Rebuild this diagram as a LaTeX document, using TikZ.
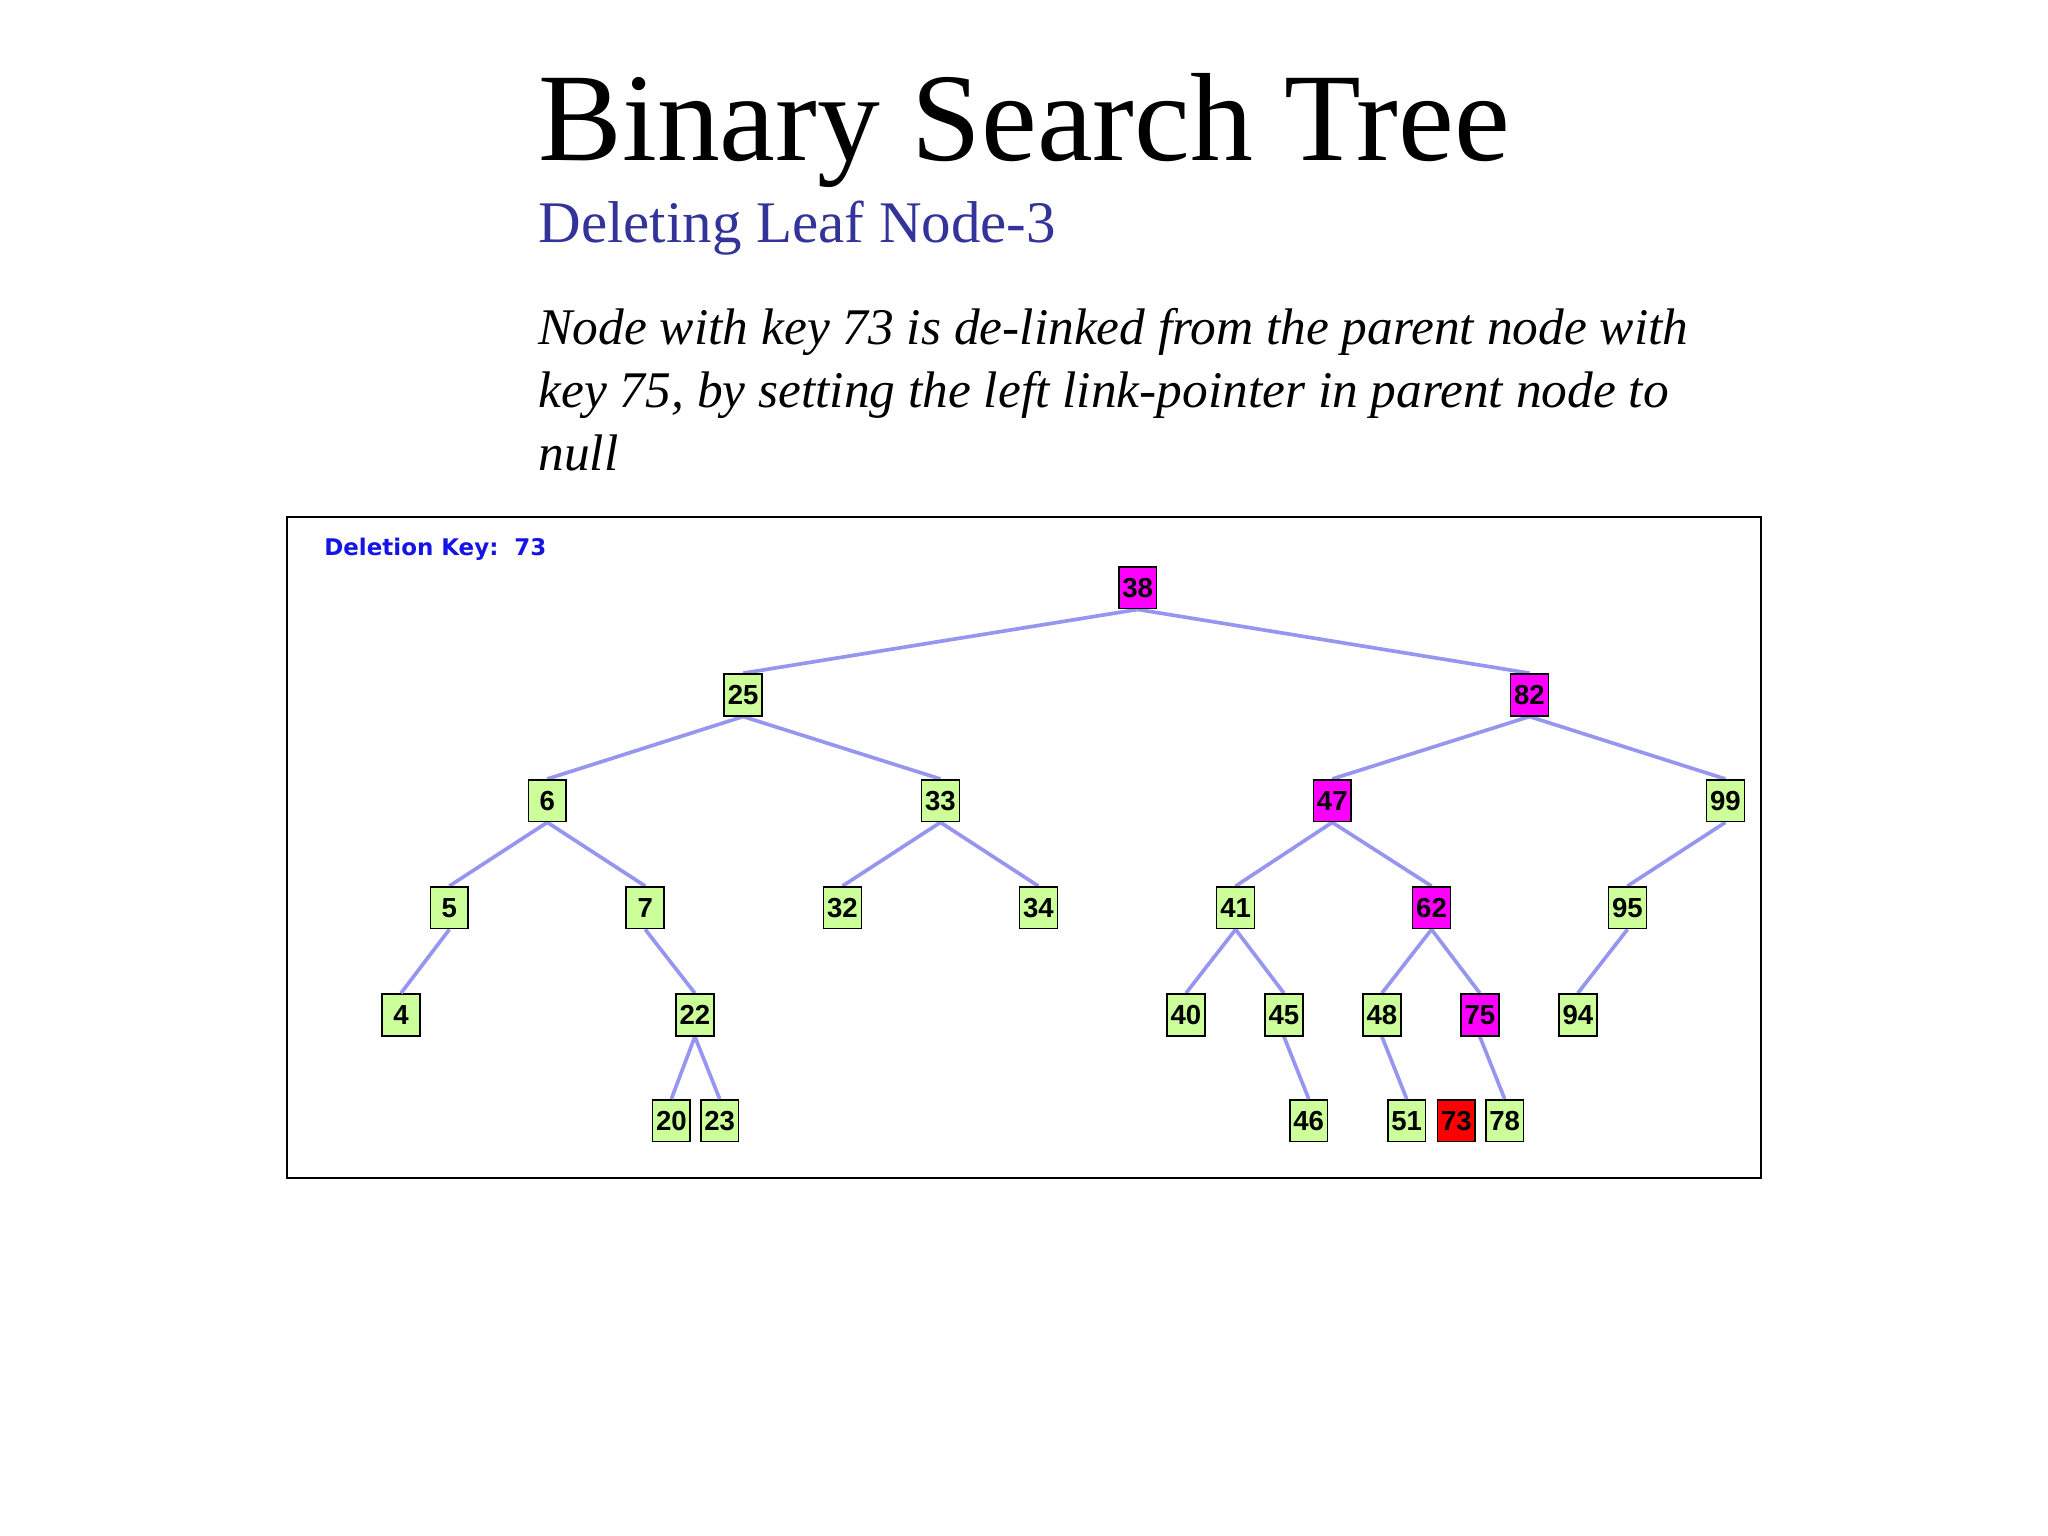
\documentclass[tikz,border=0pt]{standalone}
\usepackage{fontspec}
\setmainfont{Liberation Serif}
\newfontfamily\arialf{Liberation Sans}
\newfontfamily\dejaf{DejaVu Sans}
\begin{document}
\begin{tikzpicture}[x=0.02cm,y=-0.02cm]
\definecolor{leaf}{RGB}{204,255,153}
\definecolor{mag}{RGB}{255,0,255}
\definecolor{rdc}{RGB}{255,0,0}
\definecolor{edgec}{RGB}{150,150,240}
\tikzset{
  tn/.style={draw=black,line width=0.7pt,minimum width=29*0.02cm,minimum height=32*0.02cm,inner sep=0pt,fill=leaf,font=\arialf\bfseries\fontsize{12}{12}\selectfont},
  lm/.style={tn,fill=mag},
  rd/.style={tn,fill=rdc},
  ed/.style={draw=edgec,line width=1.6pt}}
\useasboundingbox (0,0) rectangle (1568,1176);
\node[anchor=base west,inner sep=0,font=\fontsize{54.7}{60}\selectfont] (title) at (412,123) {Binary Search Tree};
\node[anchor=base west,inner sep=0,font=\fontsize{25.7}{30}\selectfont,text={rgb,255:red,51;green,51;blue,153}] (sub) at (412,186) {Deleting Leaf Node-3};
\node[anchor=north west,inner sep=0,align=left,font=\itshape\fontsize{22.4}{27.3}\selectfont] (desc) at (412,236) {Node with key 73 is de-linked from the parent node with\\key 75, by setting the left link-pointer in parent node to\\null};
\draw[line width=0.8pt] (220,396) rectangle (1348,902);
\node[anchor=base west,inner sep=0,font=\dejaf\bfseries\fontsize{10}{12}\selectfont,text={rgb,255:red,20;green,20;blue,230}] (dk) at (248,425) {Deletion Key:\ \ 73};
\foreach \a/\b in {}{}
\foreach \n/\x/\y/\s in {38/871/450/lm,25/569/532/tn,82/1171/532/lm,6/419/613/tn,33/720/613/tn,47/1020/613/lm,99/1321/613/tn,5/344/695/tn,7/494/695/tn,32/645/695/tn,34/795/695/tn,41/946/695/tn,62/1096/695/lm,95/1246/695/tn,4/307/777/tn,22/532/777/tn,40/908/777/tn,45/983/777/tn,48/1058/777/tn,75/1133/777/lm,94/1208/777/tn,20/514/858/tn,23/551/858/tn,46/1002/858/tn,51/1077/858/tn,73/1115/858/rd,78/1152/858/tn}
  \node[\s] (n\n) at (\x,\y) {\n};
\foreach \a/\b in {38/25,38/82,25/6,25/33,82/47,82/99,6/5,6/7,33/32,33/34,47/41,47/62,99/95,5/4,7/22,41/40,41/45,62/48,62/75,95/94,22/20,22/23,45/46,48/51,75/78}
  \draw[ed] (n\a.south) -- (n\b.north);
\foreach \n in {38,82,47,62,75}
  \node[lm] at (n\n) {\n};
\foreach \n in {25,6,33,99,5,7,32,34,41,95,22,40,45,48,94}
  \node[tn] at (n\n) {\n};
\end{tikzpicture}
\end{document}
